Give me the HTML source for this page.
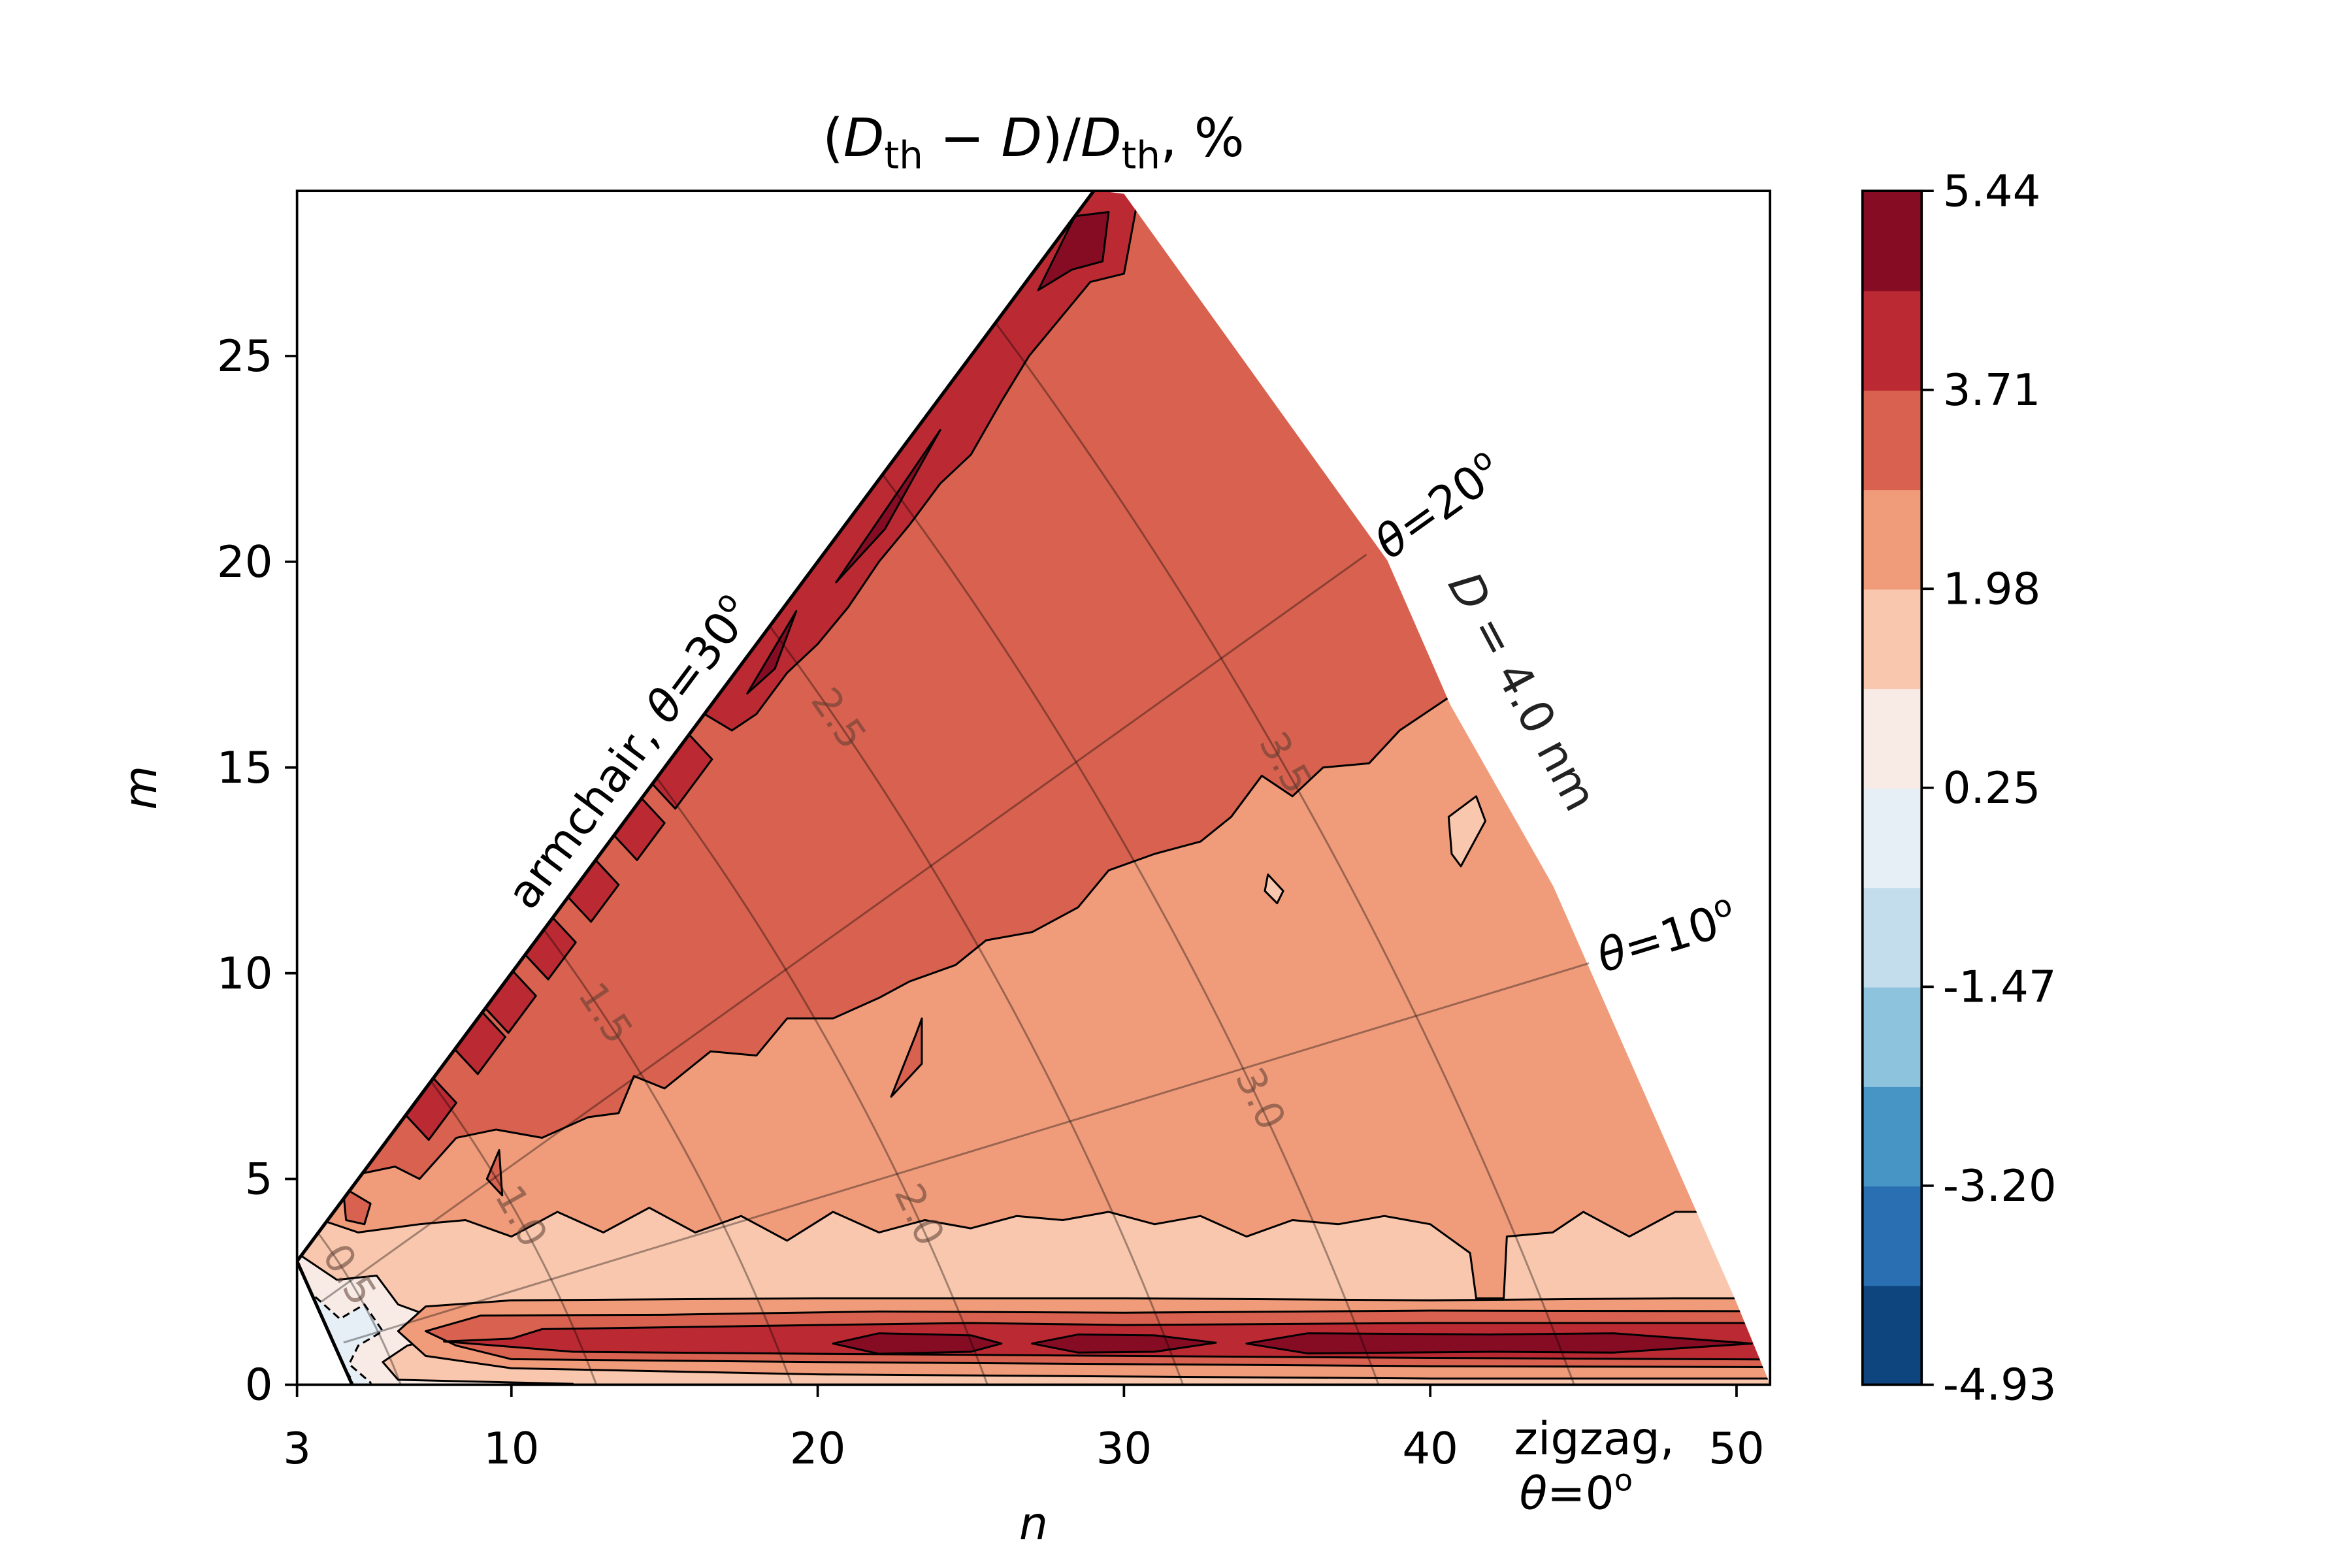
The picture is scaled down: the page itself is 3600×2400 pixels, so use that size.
<!DOCTYPE html>
<html><head><meta charset="utf-8"><style>
html,body{margin:0;padding:0;background:#fff}
svg{display:block}
text{font-family:"DejaVu Sans","Liberation Sans",sans-serif}
</style></head><body>
<svg id="chart" xmlns="http://www.w3.org/2000/svg" width="3600" height="2400" viewBox="0 0 1552 1035" preserveAspectRatio="none">
<defs>
<clipPath id="plotclip"><rect x="196" y="126" width="972" height="788"/></clipPath>
<clipPath id="domclip"><path id="domclippath" d=""/></clipPath>
</defs>
<rect width="1552" height="1035" fill="#fff"/>
<g id="plot" clip-path="url(#plotclip)">
  <g id="bands" clip-path="url(#domclip)"></g>
  <g id="refs"></g>
  <path id="domedge" fill="none" stroke="#000" stroke-width="2.2"/>
</g>
<rect x="196" y="126" width="972" height="788" fill="none" stroke="#000" stroke-width="1.6"/>
<g id="axes"></g>
<g id="cbar"></g>
<text x="682" y="103" text-anchor="middle" font-size="35">(<tspan font-style="italic">D</tspan><tspan font-size="25" dy="8">th</tspan><tspan dy="-8"> − </tspan><tspan font-style="italic">D</tspan>)/<tspan font-style="italic">D</tspan><tspan font-size="25" dy="8">th</tspan><tspan dy="-8">, %</tspan></text>
<text x="682" y="1016" text-anchor="middle" font-size="30" font-style="italic">n</text>
<text x="103" y="520" text-anchor="middle" font-size="30" font-style="italic" transform="rotate(-90 103 520)">m</text>
<text x="0" y="0" font-size="30" transform="translate(350,602) rotate(-53.3)">armchair, <tspan font-style="italic">θ</tspan>=30<tspan font-size="20" dy="-12">o</tspan></text>
<text x="0" y="0" font-size="30" transform="translate(917,370) rotate(-35.6)"><tspan font-style="italic">θ</tspan>=20<tspan font-size="20" dy="-12">o</tspan></text>
<text x="0" y="0" font-size="30" transform="translate(1058,642) rotate(-17)"><tspan font-style="italic">θ</tspan>=10<tspan font-size="20" dy="-12">o</tspan></text>
<text x="0" y="0" font-size="30" fill="#222" transform="translate(955,385) rotate(62)"><tspan font-style="italic">D</tspan> = 4.0 nm</text>
<text x="1052" y="960" text-anchor="middle" font-size="30">zigzag,</text>
<text x="1040" y="996" text-anchor="middle" font-size="30"><tspan font-style="italic">θ</tspan>=0<tspan font-size="20" dy="-12">o</tspan></text>
</svg>
<script>
const levels=["-4.93","-3.20","-1.47","0.25","1.98","3.71","5.44"];
const bandColors=["#0f457f","#2a6fb1","#4695c5","#8ec3de","#c3ddec","#e6eff5","#f8eae4","#f9c7ae","#f09c7b","#d8624f","#bb2a33","#860c24"];
const xTicks=[3,10,20,30,40,50];
const yTicks=[0,5,10,15,20,25];
const dValues=[0.5,1.0,1.5,2.0,2.5,3.0,3.5];
const dLabelTheta=[21,16,24,8,26,9,17];
const thetaLines=[10,20];
const dMax=4.0;
const domainEdge=[[3,3],[29.03,29.03],[30.0,28.94],[38.6,20.03],[40.65,16.53],[44.02,12.11],[50.0,1.99],[51.1,0],[4.8,0]];
const regionLight=[[3,4.2],[5,3.7],[7,3.9],[8.5,4.0],[10,3.6],[11.5,4.2],[13,3.7],[14.5,4.3],[16,3.7],[17.5,4.1],[19,3.5],[20.5,4.2],[22,3.7],[23.5,4.0],[25,3.8],[26.5,4.1],[28,4.0],[29.5,4.2],[31,3.9],[32.5,4.1],[34,3.6],[35.5,4.0],[37,3.9],[38.5,4.1],[40,3.9],[41.3,3.2],[41.5,2.1],[42.4,2.1],[42.5,3.6],[44,3.7],[45,4.2],[46.5,3.6],[48,4.2],[55,4.2],[55,-2],[0,-2]];
const regionUpper=[[4.9,5.1],[6.2,5.3],[7,5.0],[8.2,6.0],[9.5,6.2],[11,6.0],[12.5,6.5],[13.5,6.6],[14,7.5],[15,7.2],[16.5,8.1],[18,8.0],[19,8.9],[20.5,8.9],[22,9.4],[23,9.8],[24.5,10.2],[25.5,10.8],[27,11.0],[28.5,11.6],[29.5,12.5],[31,12.9],[32.5,13.2],[33.5,13.8],[34.5,14.8],[35.5,14.3],[36.5,15.0],[38,15.1],[39,15.9],[40.6,16.7],[60,16.7],[60,40],[0,40]];
const regionPale=[[2,3.6],[3,3.2],[4.3,2.55],[5.6,2.65],[6.3,1.95],[7.4,1.65],[8.3,1.25],[6.6,0.95],[5.8,0.55],[6.3,0.12],[12,0.02],[12,-2],[2,-2]];
const regionBlue1=[[2,3.0],[3.2,2.4],[4.4,1.6],[5.2,1.95],[5.8,1.3],[5.0,0.95],[4.7,0.5],[5.4,0.05],[5.4,-2],[2,-2]];
const regionBlue2=[[2,2.8],[3.4,2.1],[4.0,1.2],[4.4,0.6],[4.8,0.1],[4.8,-2],[2,-2]];
const regionBlue3=[[3,0.9],[4.1,0.5],[4.6,0.2],[4.9,-0.5],[3,-0.5]];
const regionBlue4=[[3,0.45],[4.3,0.25],[4.7,0.05],[4.7,-0.5],[3,-0.5]];
const stripA=[[6.3,1.3],[7.2,1.9],[10,2.05],[20,2.1],[30,2.1],[40,2.05],[48,2.1],[55,2.1],[55,0.15],[40,0.15],[30,0.2],[20,0.25],[10,0.4],[7.2,0.7]];
const stripB=[[7.2,1.3],[9,1.68],[15,1.7],[22,1.78],[30,1.75],[40,1.8],[55,1.78],[55,0.42],[40,0.45],[30,0.5],[20,0.55],[10,0.62],[8.2,0.95]];
const stripC=[[7.8,1.05],[10,1.12],[11,1.35],[20,1.45],[25,1.5],[30,1.45],[40,1.5],[55,1.5],[55,0.6],[40,0.65],[30,0.7],[20,0.75],[12,0.8],[10,0.92]];
const stripD1=[[20.5,1.0],[22,1.25],[25,1.2],[26,1.0],[25,0.8],[22,0.75]];
const stripD2=[[27,1.0],[28.5,1.22],[31,1.2],[33,1.02],[31,0.8],[28.5,0.78]];
const stripD3=[[34,1.0],[36,1.25],[42,1.22],[46,1.25],[50.5,1.0],[46,0.78],[42,0.8],[36,0.76]];
const armStrip=[[16.3,16.3],[31,31],[30.0,27.0],[28.9,26.8],[26.9,25.0],[26.0,23.9],[25.0,22.6],[24.0,21.9],[23.0,20.9],[22.0,20.0],[21.0,18.9],[20.0,18.0],[19.0,17.3],[18.0,16.3],[17.2,15.9]];
const armDark1=[[27.2,26.6],[28.4,28.4],[29.5,28.5],[29.3,27.3],[28.3,27.1]];
const armDark2=[[20.6,19.5],[24.0,23.2],[22.2,20.8]];
const armDark3=[[17.7,16.8],[19.3,18.8],[18.6,17.4]];
const armBlockCenters=[15.2,13.8,12.3,10.9,9.6,8.6,7.0];
const islands=[[[40.6,13.8],[41.5,14.3],[41.8,13.7],[41,12.6],[40.7,12.9]],[[34.7,12.4],[35.2,12.0],[35.0,11.7],[34.6,12.0]],[[23.2,8.5],[23.4,8.9],[23.4,7.8],[22.4,7.0]],[[9.2,5.0],[9.6,5.7],[9.7,4.6]],[[4.5,4.8],[5.4,4.4],[5.2,3.9],[4.6,4.0]]];

const NS="http://www.w3.org/2000/svg";
const X=n=>196+(n-3)*20.21;
const Y=m=>914-m*27.16;
const R0=0.246/Math.PI;
function nmAt(D,thDeg){const R=D/R0,t=thDeg*Math.PI/180;return [R*(Math.cos(t)-Math.sin(t)/Math.sqrt(3)),R*2*Math.sin(t)/Math.sqrt(3)];}
function ptsToD(pts,close){return pts.map((p,i)=>(i?'L':'M')+X(p[0]).toFixed(2)+' '+Y(p[1]).toFixed(2)).join(' ')+(close?' Z':'');}
function mk(tag,attrs,parent){const e=document.createElementNS(NS,tag);for(const k in attrs)e.setAttribute(k,attrs[k]);parent.appendChild(e);return e;}

document.getElementById('domclippath').setAttribute('d',ptsToD(domainEdge,true));
document.getElementById('domedge').setAttribute('d',ptsToD([[4.8,0],[3,3],[29.03,29.03]],false));

const bands=document.getElementById('bands');
function region(pts,band,name,dash){
  const p=mk('path',{d:ptsToD(pts,true),fill:bandColors[band],stroke:'#000','stroke-width':1.3,'stroke-linejoin':'round'},bands);
  if(dash)p.setAttribute('stroke-dasharray','5 3');
  
  
}
const bg=mk('rect',{x:0,y:0,width:1552,height:1035,fill:bandColors[8]},bands);


region(regionUpper,9,'band-upper');
region(regionLight,7,'band-light');
region(regionPale,6,'band-pale');
region(regionBlue1,5,'band-blue-1',true);
region(regionBlue2,4,'band-blue-2',true);
region(regionBlue3,3,'band-blue-3',true);
region(regionBlue4,2,'band-blue-4',true);
region(stripA,8,'zigzag-strip-a');
region(stripB,9,'zigzag-strip-b');
region(stripC,10,'zigzag-strip-c');
region(stripD1,11,'zigzag-strip-d1');
region(stripD2,11,'zigzag-strip-d2');
region(stripD3,11,'zigzag-strip-d3');
region(armStrip,10,'armchair-strip');
region(armDark1,11,'armchair-dark-1');
region(armDark2,11,'armchair-dark-2');
region(armDark3,11,'armchair-dark-3');
armBlockCenters.forEach((c,i)=>{
  const w=c>14?0.6:0.45;
  region([[c-w,c-w],[c+w,c+w],[c+w+0.75,c+w-0.6],[c-w+0.75,c-w-0.6]],10,'armchair-block-'+i);
});
islands.forEach((p,i)=>region(p,i<2?7:9,'island-'+i));

const refs=document.getElementById('refs');
dValues.forEach((D,i)=>{
  const pts=[];for(let th=0;th<=30.001;th+=0.5)pts.push(nmAt(D,th));
  const l=mk('path',{d:ptsToD(pts,false),fill:'none',stroke:'rgba(0,0,0,0.35)','stroke-width':1.3},refs);
  
  
  const a=nmAt(D,dLabelTheta[i]),b=nmAt(D,dLabelTheta[i]+0.5);
  let ang=Math.atan2(Y(b[1])-Y(a[1]),X(b[0])-X(a[0]))*180/Math.PI;
  if(ang<-90)ang+=180; if(ang>90)ang-=180;
  const t=mk('text',{x:0,y:0,'font-size':26,fill:'rgba(90,60,50,0.55)','text-anchor':'middle','dominant-baseline':'middle',transform:`translate(${X(a[0]).toFixed(1)},${Y(a[1]).toFixed(1)}) rotate(${ang.toFixed(1)})`},refs);
  t.textContent=D.toFixed(1);
  
  
});
thetaLines.forEach(th=>{
  const a=nmAt(0.4,th),b=nmAt(dMax,th);
  const l=mk('path',{d:ptsToD([a,b],false),stroke:'rgba(0,0,0,0.35)','stroke-width':1.3},refs);
  
  
});

const axes=document.getElementById('axes');
xTicks.forEach(v=>{
  const l=mk('line',{x1:X(v),x2:X(v),y1:914,y2:922,stroke:'#000','stroke-width':1.6},axes);
  
  
  const t=mk('text',{x:X(v),y:966,'font-size':29,'text-anchor':'middle'},axes);
  t.textContent=v;
  
  
});
yTicks.forEach(v=>{
  const l=mk('line',{x1:188,x2:196,y1:Y(v),y2:Y(v),stroke:'#000','stroke-width':1.6},axes);
  
  
  const t=mk('text',{x:180,y:Y(v)+10,'font-size':29,'text-anchor':'end'},axes);
  t.textContent=v;
  
  
});

const cb=document.getElementById('cbar');
const cbTop=126,cbBot=914,cbX=1229,cbW=39,nb=bandColors.length,bh=(cbBot-cbTop)/nb;
bandColors.forEach((c,i)=>{
  const r=mk('rect',{x:cbX,y:(cbBot-(i+1)*bh).toFixed(2),width:cbW,height:(bh+0.5).toFixed(2),fill:c},cb);
  
  
});
const cf=mk('rect',{x:cbX,y:cbTop,width:cbW,height:cbBot-cbTop,fill:'none',stroke:'#000','stroke-width':1.6},cb);


levels.forEach((lv,i)=>{
  const y=cbBot-i*(cbBot-cbTop)/(levels.length-1);
  const l=mk('line',{x1:cbX+cbW,x2:cbX+cbW+8,y1:y,y2:y,stroke:'#000','stroke-width':1.6},cb);
  
  
  const t=mk('text',{x:cbX+cbW+14,y:y+10,'font-size':29},cb);
  t.textContent=lv;
  
  
});
</script>
</body></html>
